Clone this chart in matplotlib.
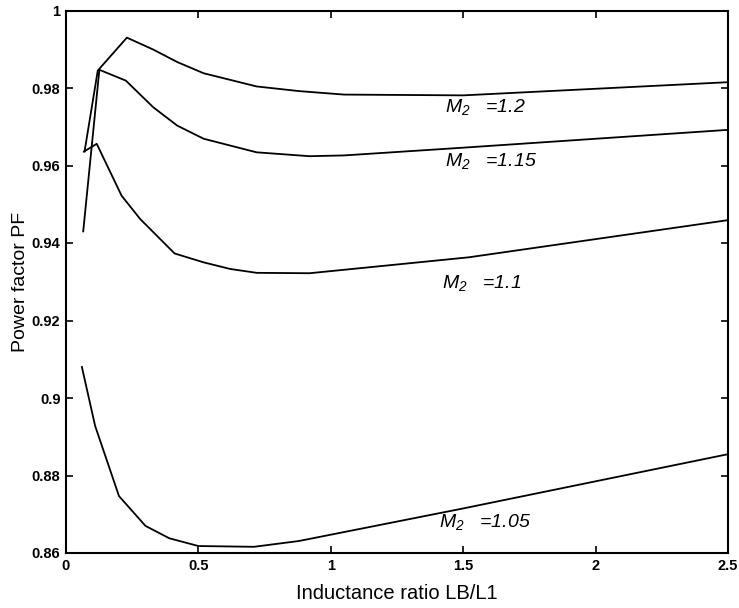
import matplotlib
matplotlib.use("Agg")
import matplotlib.pyplot as plt

plt.rcParams["font.family"] = ["Liberation Sans", "DejaVu Sans"]
plt.rcParams["mathtext.fontset"] = "custom"
plt.rcParams["mathtext.it"] = "Liberation Sans:italic"
plt.rcParams["mathtext.rm"] = "Liberation Sans:italic"

# Power factor versus inductance ratio for several modulation indices M2
x_m120 = [0.07, 0.12, 0.23, 0.33, 0.42, 0.52, 0.72, 0.88, 1.05, 1.5, 2.5]
pf_m120 = [0.9636, 0.9845, 0.9930, 0.9899, 0.9867, 0.9838, 0.9804, 0.9792, 0.9783, 0.9781, 0.9815]

x_m115 = [0.065, 0.126, 0.226, 0.33, 0.42, 0.52, 0.72, 0.92, 1.05, 1.5, 2.5]
pf_m115 = [0.9430, 0.9847, 0.9819, 0.9750, 0.9703, 0.9669, 0.9634, 0.9624, 0.9626, 0.9646, 0.9692]

x_m110 = [0.068, 0.116, 0.21, 0.28, 0.41, 0.52, 0.62, 0.72, 0.92, 1.52, 2.5]
pf_m110 = [0.9636, 0.9656, 0.9522, 0.9462, 0.9373, 0.9350, 0.9333, 0.9323, 0.9322, 0.9363, 0.9459]

x_m105 = [0.06, 0.11, 0.2, 0.3, 0.39, 0.5, 0.71, 0.88, 1.5, 2.5]
pf_m105 = [0.9080, 0.8928, 0.8747, 0.8670, 0.8638, 0.8618, 0.8616, 0.8631, 0.8715, 0.8855]

curve_labels = ["=1.2", "=1.15", "=1.1", "=1.05"]
label_x = [1.43, 1.43, 1.42, 1.41]
label_y = [0.9750, 0.9612, 0.9298, 0.8680]

x_ticks = [0, 0.5, 1, 1.5, 2, 2.5]
x_tick_labels = ["0", "0.5", "1", "1.5", "2", "2.5"]
y_ticks = [0.86, 0.88, 0.90, 0.92, 0.94, 0.96, 0.98, 1.0]
y_tick_labels = ["0.86", "0.88", "0.9", "0.92", "0.94", "0.96", "0.98", "1"]

fig = plt.figure(figsize=(7.39, 6.08), dpi=100)
ax = fig.add_axes([66 / 739, 1 - 553 / 608, 662 / 739, 542.5 / 608])

for xs, ys in [(x_m120, pf_m120), (x_m115, pf_m115), (x_m110, pf_m110), (x_m105, pf_m105)]:
    ax.plot(xs, ys, color="black", linewidth=1.3)

for lab, lx, ly in zip(curve_labels, label_x, label_y):
    ax.text(lx, ly, r"$M_2$   " + lab, fontsize=14, fontstyle="italic",
            va="center", ha="left", color="black")

ax.set_xlim(0, 2.5)
ax.set_ylim(0.86, 1.0)
ax.set_xticks(x_ticks)
ax.set_xticklabels(x_tick_labels)
ax.set_yticks(y_ticks)
ax.set_yticklabels(y_tick_labels)
ax.tick_params(direction="in", top=True, right=True, length=5, width=1.2,
               labelsize=10.5, pad=4)
for lbl in ax.get_xticklabels() + ax.get_yticklabels():
    lbl.set_fontweight("bold")
for sp in ax.spines.values():
    sp.set_linewidth(1.5)

ax.set_xlabel("Inductance ratio LB/L1", fontsize=14.5, labelpad=8)
ax.set_ylabel("Power factor PF", fontsize=14, labelpad=2)

fig.savefig("out.png", dpi=100)
